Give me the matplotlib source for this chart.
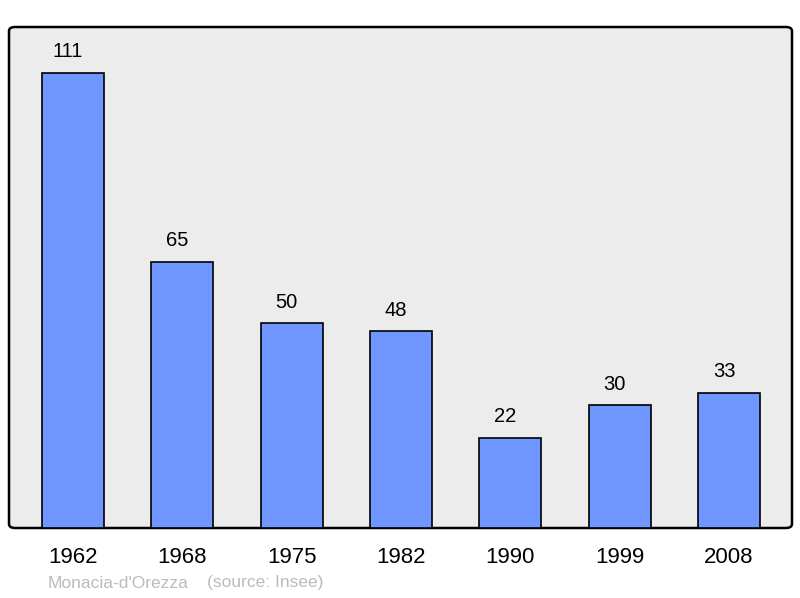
import matplotlib.pyplot as plt
from matplotlib.patches import FancyBboxPatch

years = ['1962', '1968', '1975', '1982', '1990', '1999', '2008']
population = [111, 65, 50, 48, 22, 30, 33]

plt.rcParams['font.family'] = ['Liberation Sans', 'DejaVu Sans']

fig = plt.figure(figsize=(8, 5.98), dpi=100)
ax = fig.add_axes([9 / 800, 70 / 598, 783 / 800, 501 / 598])
ax.set_facecolor('none')

# rounded grey panel behind the bars
panel = FancyBboxPatch((0, 0), 1, 1, boxstyle='round,pad=0,rounding_size=0.008',
                       transform=ax.transAxes, facecolor='#ececec',
                       edgecolor='black', linewidth=1.8, zorder=0, clip_on=False)
ax.add_patch(panel)

x = range(len(years))
ax.bar(x, population, width=0.567, color='#7097ff', edgecolor='black',
       linewidth=1.2, zorder=2)

# value labels sit a little left of the bar centre in the original
for i, v in enumerate(population):
    ax.text(i - 0.045, v + 2.8, str(v), ha='center', va='bottom', fontsize=14.5)

ax.set_xlim(-0.585, 6.576)
ax.set_ylim(0, 122.2)
for s in ax.spines.values():
    s.set_visible(False)
ax.set_yticks([])
ax.set_xticks(list(x))
ax.set_xticklabels(years, fontsize=16)
ax.tick_params(axis='x', length=0, pad=14)

fig.text(48 / 800, 1 - 583 / 598, "Monacia-d'Orezza", color='#bbbbbb',
         fontsize=12.5, va='center', ha='left')
fig.text(207 / 800, 1 - 583 / 598, "(source: Insee)", color='#bbbbbb',
         fontsize=12.5, va='center', ha='left')

fig.savefig('out.png', dpi=100)
